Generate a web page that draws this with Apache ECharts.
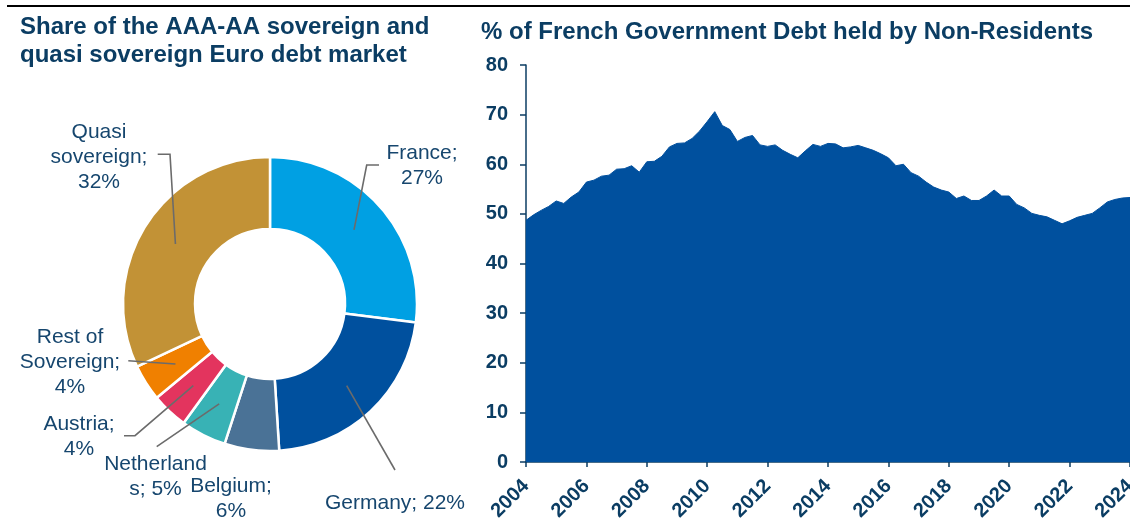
<!DOCTYPE html>
<html>
<head>
<meta charset="utf-8">
<script src="https://cdn.jsdelivr.net/npm/echarts@6/dist/echarts.min.js"></script>
<style>
  html, body { margin: 0; padding: 0; background: #fff; }
  #chart { width: 1130px; height: 523px; }
</style>
</head>
<body>
<div id="chart"></div>
<script>
// ---------- DATA ----------
const pieNames = ['France', 'Germany', 'Belgium', 'Netherlands', 'Austria', 'Rest of Sovereign', 'Quasi sovereign'];
const pieValues = [27, 22, 6, 5, 4, 4, 32];
const pieColors = ['#00A0E3', '#00509E', '#4A7296', '#38B2B5', '#E3345E', '#F08000', '#C29236'];

const firstYear = 2004;
const lastYear = 2024;
const nonResidentShare = [
  48.7, 49.8, 50.7, 51.5, 52.6, 52.1, 53.4, 54.4,
  56.4, 56.8, 57.6, 57.8, 59.0, 59.1, 59.7, 58.4,
  60.5, 60.6, 61.6, 63.5, 64.2, 64.3, 65.2, 66.7,
  68.6, 70.6, 67.8, 67.0, 64.6, 65.4, 65.8, 63.9,
  63.6, 63.9, 62.8, 62.0, 61.3, 62.7, 64.0, 63.6,
  64.2, 64.1, 63.3, 63.5, 63.8, 63.3, 62.8, 62.1,
  61.3, 59.7, 60.0, 58.3, 57.6, 56.4, 55.4, 54.8,
  54.4, 53.1, 53.6, 52.7, 52.7, 53.6, 54.8, 53.6,
  53.6, 51.9, 51.2, 50.1, 49.7, 49.4, 48.7, 48.0,
  48.6, 49.3, 49.7, 50.1, 51.2, 52.4, 52.9, 53.2,
  53.3
];
const quarters = [];
for (let y = firstYear; y <= lastYear; y++) {
  for (let q = 1; q <= 4; q++) {
    if (quarters.length < nonResidentShare.length) quarters.push(y + ' Q' + q);
  }
}
const yTicks = { min: 0, max: 80, interval: 10 };

// ---------- LAYOUT ----------
const navy = '#0B3D63';
const labelNavy = '#16466E';
const pieCenter = [270, 304];
const pieRadius = [75, 147];
const lineStartR = 112;
const labelCuts = [[7], [], [8], [10], [8], [7, 18], [5, 16]];
const labelPos = [
  { x: 422, y: 166, pts: [[366.7, 165], [379, 165]] },
  { x: 395, y: 503, pts: [[395, 470]] },
  { x: 231, y: 499, pts: null },
  { x: 155.5, y: 477, pts: [[156.7, 446.7]] },
  { x: 79, y: 437, pts: [[135, 435.7], [124, 435.7]] },
  { x: 70, y: 362, pts: [[128.3, 360.7]] },
  { x: 99, y: 157, pts: [[170, 154.3], [157.7, 154.3]] }
];

function wrapLabel(text, cuts) {
  const parts = [];
  let prev = 0;
  cuts.forEach(c => { parts.push(text.slice(prev, c).trim()); prev = c; });
  parts.push(text.slice(prev).trim());
  return parts.join('\n');
}

const total = pieValues.reduce((a, b) => a + b, 0);
function startPoint(i) {
  let before = 0;
  for (let k = 0; k < i; k++) before += pieValues[k];
  const a = (before + pieValues[i] / 2) / total * Math.PI * 2;
  return [pieCenter[0] + lineStartR * Math.sin(a), pieCenter[1] - lineStartR * Math.cos(a)];
}

const leaderLines = [];
labelPos.forEach((lp, i) => {
  if (!lp.pts) return;
  leaderLines.push({
    type: 'polyline',
    z: 100,
    shape: { points: [startPoint(i)].concat(lp.pts) },
    style: { stroke: '#6B6B6B', lineWidth: 1.6, fill: null }
  });
});

const chart = echarts.init(document.getElementById('chart'), null, { renderer: 'canvas' });
const font = "'Liberation Sans', Arial, sans-serif";

chart.setOption({
  animation: false,
  textStyle: { fontFamily: font },
  title: [
    {
      text: 'Share of the AAA-AA sovereign and\nquasi sovereign Euro debt market',
      left: 20, top: 13, padding: 0,
      textStyle: { fontSize: 24, fontWeight: 'bold', color: navy, lineHeight: 28, fontFamily: font }
    },
    {
      text: '% of French Government Debt held by Non-Residents',
      left: 481, top: 18, padding: 0,
      textStyle: { fontSize: 24, fontWeight: 'bold', color: navy, lineHeight: 28, fontFamily: font }
    }
  ],
  graphic: [
    { type: 'line', z: 100, shape: { x1: 7, y1: 6, x2: 1130, y2: 6 }, style: { stroke: '#000', lineWidth: 2 } }
  ].concat(leaderLines),
  grid: { left: 526, right: 0, top: 65, bottom: 61, outerBoundsMode: 'none', containLabel: false },
  xAxis: {
    type: 'category',
    data: quarters,
    boundaryGap: false,
    axisLine: { lineStyle: { color: navy, width: 1.5 } },
    axisTick: { interval: (i) => i % 8 === 0, length: 5, lineStyle: { color: navy, width: 1.5 } },
    axisLabel: {
      interval: (i) => i % 8 === 0,
      rotate: 45,
      margin: 21,
      hideOverlap: false,
      formatter: (v) => v.slice(0, 4),
      color: navy, fontWeight: 'bold', fontSize: 20, fontFamily: font
    },
    splitLine: { show: false }
  },
  yAxis: {
    type: 'value',
    min: yTicks.min, max: yTicks.max, interval: yTicks.interval,
    axisLine: { show: true, lineStyle: { color: navy, width: 1.5 } },
    axisTick: { show: true, length: 6, lineStyle: { color: navy, width: 1.5 } },
    axisLabel: { color: navy, fontWeight: 'bold', fontSize: 20, margin: 18, fontFamily: font },
    splitLine: { show: false }
  },
  series: [
    {
      type: 'line',
      data: nonResidentShare,
      showSymbol: false,
      symbol: 'none',
      lineStyle: { color: '#00509E', width: 1 },
      areaStyle: { color: '#00509E', opacity: 1 },
      z: 2
    },
    {
      type: 'pie',
      center: pieCenter,
      radius: pieRadius,
      startAngle: 90,
      clockwise: true,
      avoidLabelOverlap: false,
      itemStyle: { borderColor: '#fff', borderWidth: 2.5 },
      label: {
        show: true,
        position: 'outside',
        color: labelNavy,
        fontSize: 21,
        lineHeight: 25,
        fontFamily: font,
        align: 'center',
        formatter: (p) => wrapLabel(p.name + '; ' + p.value + '%', labelCuts[p.dataIndex])
      },
      labelLine: { show: false },
      labelLayout: (params) => {
        const lp = labelPos[params.dataIndex];
        return { x: lp.x, y: lp.y, align: 'center', verticalAlign: 'middle' };
      },
      data: pieNames.map((n, i) => ({
        name: n,
        value: pieValues[i],
        itemStyle: { color: pieColors[i] }
      }))
    }
  ]
});
</script>
</body>
</html>
